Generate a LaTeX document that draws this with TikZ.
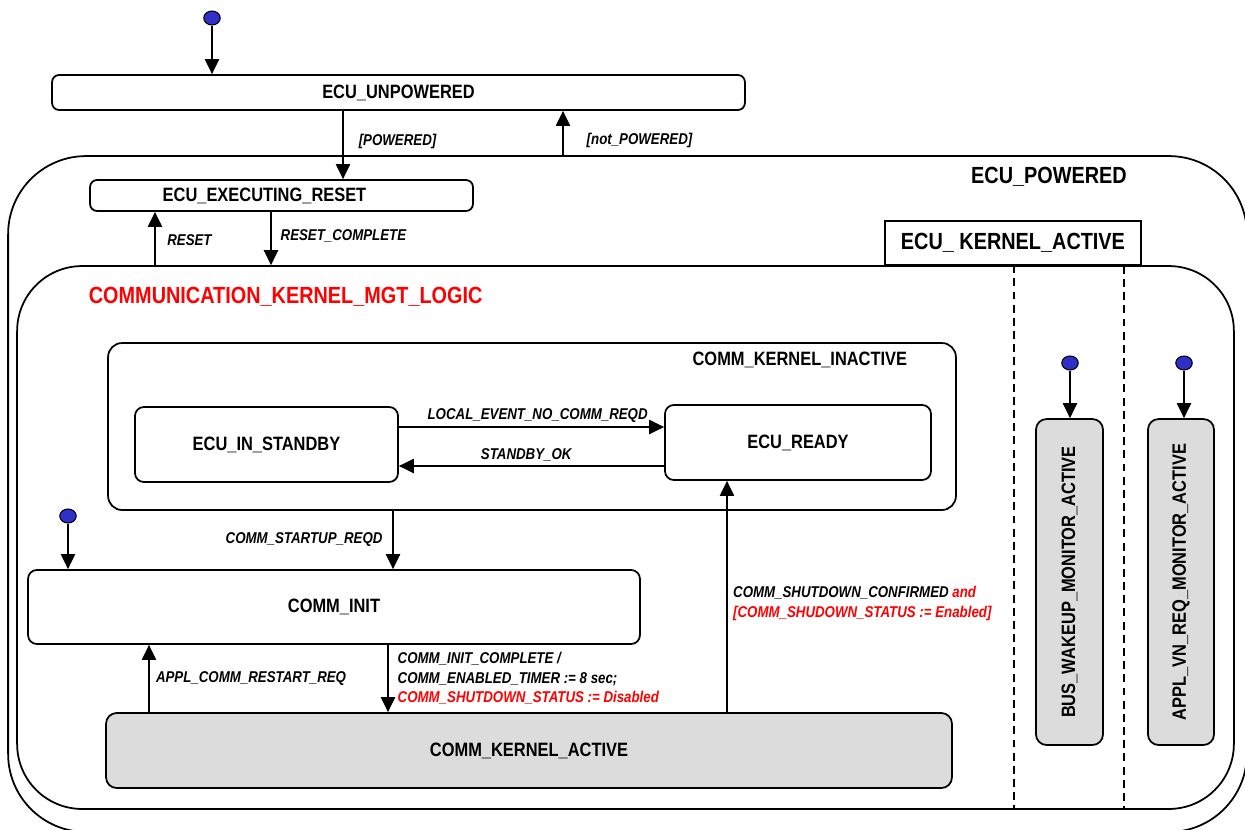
\documentclass[tikz,border=0pt]{standalone}
\usepackage{fontspec}
\setmainfont{Liberation Sans}[FakeStretch=0.85]
\usetikzlibrary{arrows.meta,shapes.geometric}
\usetikzlibrary{positioning}
\definecolor{stategray}{RGB}{220,220,220}
\definecolor{initblue}{RGB}{48,48,200}
\tikzset{
    state/.style={
           rectangle,
           rounded corners=4pt,
           draw=black, line width=1pt,
           font=\fontsize{11}{13}\selectfont\bfseries,
           text centered,
           inner sep=0pt,
           },
    activestate/.style={state, fill=stategray, rounded corners=6pt},
    region/.style={
           rectangle,
           draw=black, line width=1pt,
           inner sep=0pt,
           },
    biglabel/.style={font=\fontsize{13.3}{15}\selectfont\bfseries, inner sep=0pt},
    trans/.style={font=\fontsize{8.9}{11}\selectfont\bfseries\itshape, inner sep=2pt},
    initial/.style={
           ellipse,
           draw=black, line width=0.6pt,
           fill=initblue,
           minimum width=0.33cm, minimum height=0.28cm,
           inner sep=0pt,
           },
    lane/.style={-, dash pattern=on 4.5pt off 3pt, line width=1pt},
}

\begin{document}
\begin{tikzpicture}[x=0.02cm, y=-0.02cm, ->, >={Triangle[length=8.5pt,width=8pt]}, line width=1pt]

 \useasboundingbox (0,0) rectangle (1245,829);

 % outer regions (drawn first, they sit behind everything)
 \node[region, rounded corners=1.56cm,
  minimum width=24.78cm, minimum height=13.52cm] (powered) at (627.5,494) {};
 \node[region, rounded corners=1.3cm,
  minimum width=24.34cm, minimum height=10.86cm] (kernelactive) at (625.5,537.5) {};

 % region titles
 \node[biglabel] (poweredtitle) at (1049,177) {ECU\_POWERED};
 \node[region, biglabel, fill=white,
  minimum width=5.12cm, minimum height=0.88cm] (kerneltab) at (1013,243) {ECU\_ KERNEL\_ACTIVE};
 \node[biglabel, red, anchor=west] (mgtlogic) at (88,297) {COMMUNICATION\_KERNEL\_MGT\_LOGIC};

 % parallel lanes
 \coordinate (laneA) at (1014,0);
 \coordinate (laneB) at (1124,0);
 \draw[lane] (kernelactive.north -| laneA) -- (kernelactive.south -| laneA);
 \draw[lane] (kerneltab.south -| laneB) -- (kernelactive.south -| laneB);

 % top level states
 \node[initial] (start) at (212,18) {};
 \node[state, minimum width=13.86cm, minimum height=0.7cm] (unpowered) at (398.5,92.5) {ECU\_UNPOWERED};
 \node[state, minimum width=7.66cm, minimum height=0.62cm] (exreset) at (281.5,195.5)
  {\hspace*{-0.68cm}ECU\_EXECUTING\_RESET};

 % COMM_KERNEL_INACTIVE and its substates
 \node[state, rounded corners=8pt,
  minimum width=16.96cm, minimum height=3.34cm] (inactive) at (532,426.5) {};
 \node[biglabel, font=\fontsize{11}{13}\selectfont\bfseries, anchor=east] (inactivetitle)
  at (908,360) {COMM\_KERNEL\_INACTIVE};
 \node[state, rounded corners=5pt, minimum width=5.26cm, minimum height=1.5cm] (standby) at (266.5,444.5) {ECU\_IN\_STANDBY};
 \node[state, rounded corners=5pt, minimum width=5.32cm, minimum height=1.5cm] (ready) at (798,442.5) {ECU\_READY};

 % COMM_INIT / COMM_KERNEL_ACTIVE
 \node[initial] (initstart) at (68,516) {};
 \node[state, rounded corners=5pt, minimum width=12.24cm, minimum height=1.48cm] (comminit) at (334,607) {COMM\_INIT};
 \node[activestate, minimum width=16.92cm, minimum height=1.5cm] (commactive) at (529,750.5) {COMM\_KERNEL\_ACTIVE};

 % monitor lanes
 \node[initial] (busstart) at (1070,363) {};
 \node[activestate, rotate=90, minimum width=6.52cm, minimum height=1.34cm] (buswakeup) at (1069.5,582)
  {BUS\_WAKEUP\_MONITOR\_ACTIVE};
 \node[initial] (applstart) at (1184,363) {};
 \node[activestate, rotate=90, minimum width=6.52cm, minimum height=1.32cm] (applvn) at (1181,582)
  {APPL\_VN\_REQ\_MONITOR\_ACTIVE};

 % x positions of the vertical transitions
 \coordinate (xpow) at (343,0);
 \coordinate (xnotpow) at (563,0);
 \coordinate (xreset) at (155,0);
 \coordinate (xdone) at (271,0);
 \coordinate (xstartup) at (393,0);
 \coordinate (xrestart) at (149,0);
 \coordinate (xinitdone) at (388,0);
 \coordinate (xshutdown) at (727,0);
 \coordinate (ylocal) at (0,427);
 \coordinate (ystandby) at (0,466);

 % transitions
 \draw (start) -- (unpowered.north -| start);
 \draw (unpowered.south -| xpow) -- node[trans, right, pos=0.45, xshift=6.5pt] {[POWERED]} (exreset.north -| xpow);
 \draw (powered.north -| xnotpow) -- node[trans, right, pos=0.33, xshift=11pt] {[not\_POWERED]} (unpowered.south -| xnotpow);
 \draw (kernelactive.north -| xreset) -- node[trans, right, pos=0.47, xshift=4.5pt] {RESET} (exreset.south -| xreset);
 \draw (exreset.south -| xdone) -- node[trans, right, pos=0.45, xshift=3pt] {RESET\_COMPLETE} (kernelactive.north -| xdone);

 \draw (standby.east |- ylocal) -- node[trans, above, xshift=3.5pt] {LOCAL\_EVENT\_NO\_COMM\_REQD} (ready.west |- ylocal);
 \draw (ready.west |- ystandby) -- node[trans, above, xshift=-3pt] {STANDBY\_OK} (standby.east |- ystandby);

 \draw (inactive.south -| xstartup) -- node[trans, left, xshift=-3.5pt] {COMM\_STARTUP\_REQD} (comminit.north -| xstartup);
 \draw (initstart) -- (comminit.north -| initstart);
 \draw (commactive.north -| xrestart) -- node[trans, right, xshift=1.5pt] {APPL\_COMM\_RESTART\_REQ} (comminit.south -| xrestart);
 \draw (comminit.south -| xinitdone) -- node[trans, right, align=left, xshift=3pt] {COMM\_INIT\_COMPLETE /\\
  COMM\_ENABLED\_TIMER := 8 sec;\\
  \textcolor{red}{COMM\_SHUTDOWN\_STATUS := Disabled}} (commactive.north -| xinitdone);
 \draw (commactive.north -| xshutdown) -- node[trans, right, align=left, pos=0.47, xshift=1pt] {COMM\_SHUTDOWN\_CONFIRMED \textcolor{red}{and}\\
  \textcolor{red}{[COMM\_SHUDOWN\_STATUS := Enabled]}} (ready.south -| xshutdown);

 \draw (busstart) -- (buswakeup.east -| busstart);
 \draw (applstart) -- (applvn.east -| applstart);

\end{tikzpicture}
\end{document}
